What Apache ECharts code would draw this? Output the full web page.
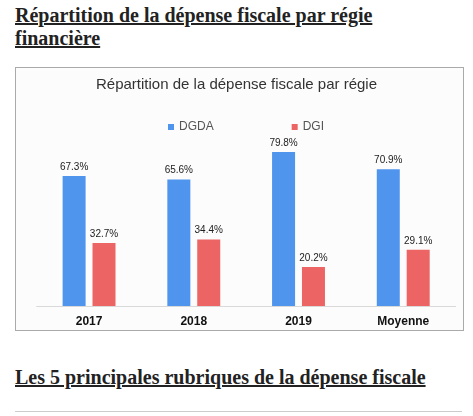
<!DOCTYPE html>
<html><head><meta charset="utf-8">
<script src="https://cdn.jsdelivr.net/npm/echarts@6/dist/echarts.min.js"></script>
<style>
html,body{margin:0;padding:0;background:#fff;width:473px;height:416px;overflow:hidden;}
.h{position:absolute;left:15px;margin:0;font-family:"Liberation Serif","Times New Roman",serif;font-weight:bold;font-size:20px;line-height:23px;color:#222;text-decoration:underline;}
#box{position:absolute;left:15px;top:67px;width:447px;height:262px;border:1px solid #aaa;background:#fcfcfc;}
#box2{position:absolute;left:15px;top:411px;width:447px;height:20px;border-top:1px solid #ccc;}
#c{position:absolute;left:0;top:0;width:473px;height:416px;}
</style></head>
<body>
<div class="h" style="top:4px;">Répartition de la dépense fiscale par régie<br>financière</div>
<div id="box"></div>
<div class="h" style="top:366px;">Les 5 principales rubriques de la dépense fiscale</div>
<div id="box2"></div>
<div id="c"></div>
<script>
const categories = ['2017', '2018', '2019', 'Moyenne'];
const dgda = [67.3, 65.6, 79.8, 70.9];
const dgi = [32.7, 34.4, 20.2, 29.1];
const seriesNames = ['DGDA', 'DGI'];

const chart = echarts.init(document.getElementById('c'), null, {renderer: 'canvas'});
const lbl = {show: true, position: 'top', distance: 4, fontSize: 10, color: '#222', fontFamily: 'Arial', formatter: p => p.value.toFixed(1) + '%'};
chart.setOption({
  animation: false,
  title: {text: 'Répartition de la dépense fiscale par régie', left: 'center', top: 72,
    textStyle: {fontSize: 15, fontWeight: 'normal', color: '#333', fontFamily: 'Arial'}},
  legend: {data: seriesNames, left: 163, top: 116, itemWidth: 6, itemHeight: 6, itemGap: 78,
    icon: 'rect', textStyle: {fontSize: 12, color: '#555', fontFamily: 'Arial'}},
  grid: {left: 36.7, right: 17.4, top: 113, bottom: 110},
  xAxis: {type: 'category', data: categories,
    axisLine: {lineStyle: {color: '#d9d9d9', width: 1}}, axisTick: {show: false},
    axisLabel: {fontSize: 12, fontWeight: 'bold', color: '#111', fontFamily: 'Arial', margin: 10}},
  yAxis: {type: 'value', min: 0, max: 100, show: false, splitLine: {show: false}},
  series: [
    {name: seriesNames[0], type: 'bar', data: dgda, barWidth: 23, barGap: '30%', itemStyle: {color: '#4F95EE'}, label: lbl},
    {name: seriesNames[1], type: 'bar', data: dgi, barWidth: 23, itemStyle: {color: '#EC6464'}, label: lbl}
  ]
});
</script>
</body></html>
